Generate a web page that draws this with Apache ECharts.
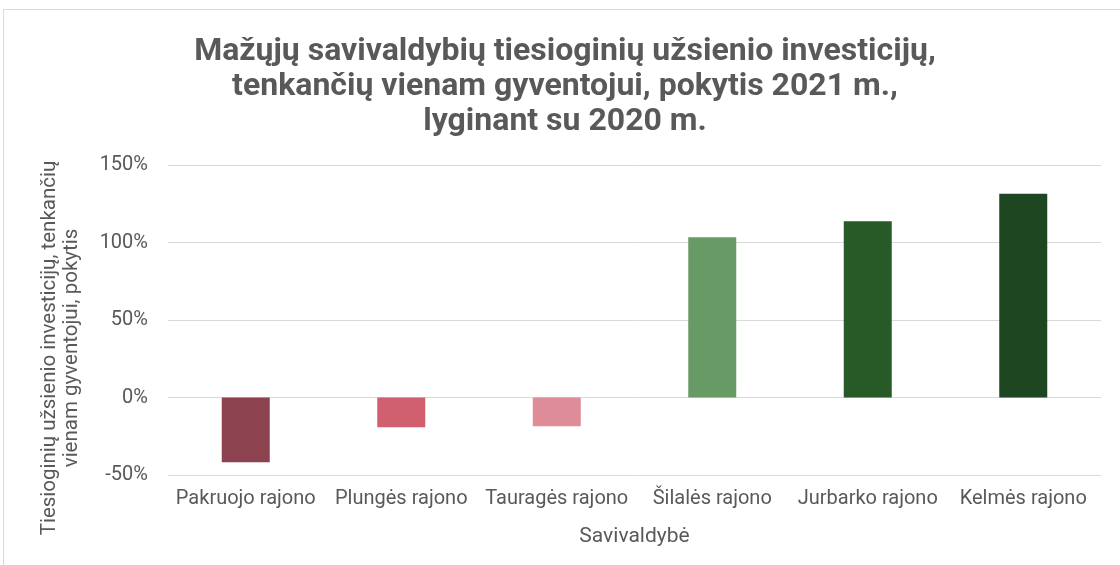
<!DOCTYPE html>
<html>
<head>
<meta charset="utf-8">
<script src="https://cdn.jsdelivr.net/npm/echarts@6/dist/echarts.min.js"></script>
<style>
  html, body { margin: 0; padding: 0; background: #fff; }
  #main { width: 1120px; height: 565px; }
</style>
</head>
<body>
<div id="main"></div>
<script>
// savivaldybės
const categories = [
  "Pakruojo rajono",
  "Plungės rajono",
  "Tauragės rajono",
  "Šilalės rajono",
  "Jurbarko rajono",
  "Kelmės rajono",
];
// pokytis, %
const values = [-41.7, -19.2, -18.5, 103.4, 113.7, 131.4];
const barColors = ["#8D4250", "#D06070", "#DE8C98", "#689A66", "#285A28", "#1E4620"];
const yTicks = { min: -50, max: 150, interval: 50 };

const txt = "#595959";
const font = "Roboto";

let myChart = echarts.init(document.getElementById("main"));

let option = {
  backgroundColor: "#fff",
  animation: false,
  title: {
    text: "Mažųjų savivaldybių tiesioginių užsienio investicijų,\ntenkančių vienam gyventojui, pokytis 2021 m.,\nlyginant su 2020 m.",
    left: 560,
    top: 29,
    textAlign: "center",
    textStyle: {
      fontFamily: font,
      fontWeight: "bold",
      fontSize: 32,
      lineHeight: 35,
      color: txt,
    },
  },
  graphic: [
    {
      type: "rect",
      shape: { x: 3.5, y: 9.5, width: 1130, height: 560 },
      style: { fill: "none", stroke: "#d9d9d9", lineWidth: 1 },
      silent: true,
    },
    {
      // ašies pavadinimas
      type: "text",
      x: 61,
      y: 348,
      rotation: Math.PI / 2,
      style: {
        text: "Tiesioginių užsienio investicijų, tenkančių\nvienam gyventojui, pokytis",
        fontFamily: font,
        fontSize: 20.5,
        lineHeight: 22,
        fill: txt,
        align: "center",
        verticalAlign: "middle",
      },
      silent: true,
    },
  ],
  grid: {
    left: 168,
    right: 19,
    top: 165,
    bottom: 90,
    containLabel: false,
  },
  xAxis: {
    type: "category",
    data: categories,
    name: "Savivaldybė",
    nameLocation: "middle",
    nameGap: 51,
    nameTextStyle: { fontFamily: font, fontSize: 21, color: txt },
    axisLine: { show: false },
    axisTick: { show: false },
    axisLabel: {
      fontFamily: font,
      fontSize: 20,
      color: txt,
      interval: 0,
      margin: 14,
    },
  },
  yAxis: {
    type: "value",
    min: yTicks.min,
    max: yTicks.max,
    interval: yTicks.interval,
    axisLine: { show: false },
    axisTick: { show: false },
    axisLabel: {
      fontFamily: font,
      fontSize: 20,
      color: txt,
      margin: 20,
      formatter: (v) => v + "%",
    },
    splitLine: { lineStyle: { color: "#d9d9d9", width: 1 } },
  },
  series: [
    {
      type: "bar",
      barWidth: 48,
      data: values.map((v, i) => ({
        value: v,
        itemStyle: { color: barColors[i] },
      })),
    },
  ],
};

myChart.setOption(option);
</script>
</body>
</html>
